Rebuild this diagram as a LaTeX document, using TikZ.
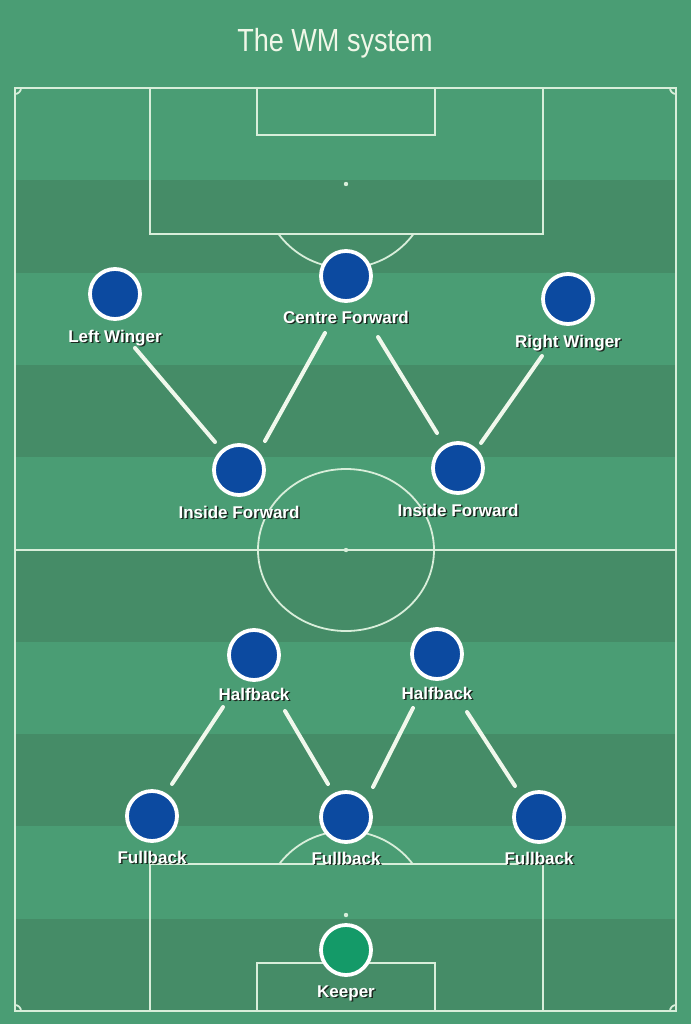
\documentclass[tikz,border=0pt]{standalone}
\usepackage{fontspec}
\setmainfont{Liberation Sans}
\usetikzlibrary{calc}
\definecolor{grassL}{RGB}{74,157,116}
\definecolor{grassD}{RGB}{69,140,103}
\definecolor{pline}{RGB}{216,238,218}
\definecolor{plblue}{RGB}{12,74,160}
\definecolor{plgreen}{RGB}{20,154,104}
\definecolor{shade}{RGB}{28,40,32}
\definecolor{linkc}{RGB}{240,248,236}
\definecolor{titlec}{RGB}{240,247,232}
\newcommand{\shtext}[1]{\makebox[0pt][l]{\kern1.5pt\raisebox{-1.5pt}{\color{shade}#1}}#1}
\tikzset{
  pitchline/.style={draw=pline, line width=1.8pt},
  player/.style={circle, draw=white, line width=3.8pt, fill=plblue, minimum size=50pt, inner sep=0pt},
  keeper/.style={player, fill=plgreen},
  lab/.style={font=\fontsize{17}{17}\selectfont\bfseries, text=white, inner sep=0pt, anchor=base},
  link/.style={draw=linkc, line width=4pt, line cap=round},
}
\begin{document}
\begin{tikzpicture}[x=1pt,y=-1pt]
\fill[grassL] (0,0) rectangle (691,1024);
\useasboundingbox (0,0) rectangle (691,1024);
% stripes
\foreach \i in {1,3,5,7,9}
  \fill[grassD] (15,{88+\i*92.3}) rectangle (676,{88+(\i+1)*92.3});
% pitch
\draw[pitchline] (15,88) rectangle (676,1011);
\draw[pitchline] (15,550) -- (676,550);
\draw[pitchline] (346,550) ellipse [x radius=88, y radius=81];
\fill[pline] (346,550) circle [radius=2.2];
% top box
\draw[pitchline] (150,88) -- (150,234) -- (543,234) -- (543,88);
\draw[pitchline] (257,88) -- (257,135) -- (435,135) -- (435,88);
\fill[pline] (346,184) circle [radius=2.2];
\begin{scope}
  \clip (0,235) rectangle (691,400);
  \draw[pitchline] (346,184) circle [radius=84];
\end{scope}
% bottom box
\draw[pitchline] (150,1011) -- (150,864) -- (543,864) -- (543,1011);
\draw[pitchline] (257,1011) -- (257,963) -- (435,963) -- (435,1011);
\fill[pline] (346,915) circle [radius=2.2];
\begin{scope}
  \clip (0,700) rectangle (691,863);
  \draw[pitchline] (346,915) circle [radius=84];
\end{scope}
% corner arcs
\begin{scope}
  \clip (15,88) rectangle (676,1011);
  \foreach \p in {(15,88),(676,88),(15,1011),(676,1011)}
    \draw[pitchline] \p circle [radius=6];
\end{scope}
% title
\node[anchor=base, font=\fontsize{32}{32}\selectfont, text=titlec, inner sep=0pt] (title) at (335,52) {\scalebox{0.845}[1]{The WM system}};
% players
\node[player] (lw) at (115,294) {};
\node[player] (cf) at (346,276) {};
\node[player] (rw) at (568,299) {};
\node[player] (ifl) at (239,470) {};
\node[player] (ifr) at (458,468) {};
\node[player] (hbl) at (254,655) {};
\node[player] (hbr) at (437,654) {};
\node[player] (fbl) at (152,816) {};
\node[player] (fbm) at (346,817) {};
\node[player] (fbr) at (539,817) {};
\node[keeper] (gk) at (346,950) {};
% labels
\node[lab] (lwL)  at ($(lw)+(0,48)$)  {\shtext{Left Winger}};
\node[lab] (cfL)  at ($(cf)+(0,47)$)  {\shtext{Centre Forward}};
\node[lab] (rwL)  at ($(rw)+(0,48)$)  {\shtext{Right Winger}};
\node[lab] (iflL) at ($(ifl)+(0,48)$) {\shtext{Inside Forward}};
\node[lab] (ifrL) at ($(ifr)+(0,48)$) {\shtext{Inside Forward}};
\node[lab] (hblL) at ($(hbl)+(0,45)$) {\shtext{Halfback}};
\node[lab] (hbrL) at ($(hbr)+(0,45)$) {\shtext{Halfback}};
\node[lab] (fblL) at ($(fbl)+(0,47)$) {\shtext{Fullback}};
\node[lab] (fbmL) at ($(fbm)+(0,47)$) {\shtext{Fullback}};
\node[lab] (fbrL) at ($(fbr)+(0,47)$) {\shtext{Fullback}};
\node[lab] (gkL)  at ($(gk)+(0,47)$)  {\shtext{Keeper}};
% connectors
\draw[link] ($(lw)+(20,54)$) -- ($(ifl)+(-24,-28)$);
\draw[link] ($(cf)+(-21,57)$) -- ($(ifl)+(26,-29)$);
\draw[link] ($(cf)+(32,61)$) -- ($(ifr)+(-21,-35)$);
\draw[link] ($(rw)+(-26,57)$) -- ($(ifr)+(23,-25)$);
\draw[link] ($(hbl)+(-31,52)$) -- ($(fbl)+(20,-32)$);
\draw[link] ($(hbl)+(31,56)$) -- ($(fbm)+(-18,-33)$);
\draw[link] ($(hbr)+(-24,54)$) -- ($(fbm)+(27,-30)$);
\draw[link] ($(hbr)+(30,58)$) -- ($(fbr)+(-24,-31)$);
\end{tikzpicture}
\end{document}
